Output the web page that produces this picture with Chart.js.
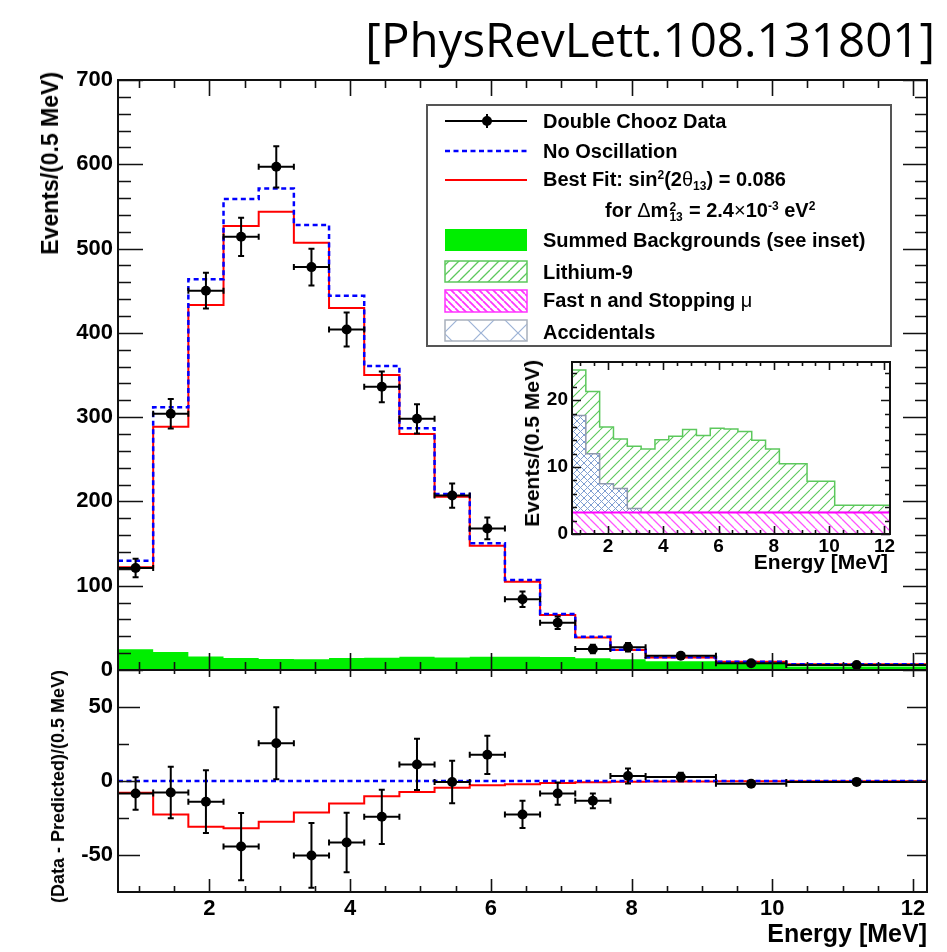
<!DOCTYPE html>
<html>
<head>
<meta charset="utf-8">
<title>Double Chooz positron spectrum</title>
<script src="https://cdn.jsdelivr.net/npm/chart.js@4.4.1/dist/chart.umd.min.js"></script>
<style>
  html, body { margin: 0; padding: 0; background: #fff; }
  #page { position: relative; width: 947px; height: 952px; overflow: hidden;
          font-family: "Liberation Sans", Arial, Helvetica, sans-serif; }
  canvas { position: absolute; }
  .t { position: absolute; white-space: nowrap; font-weight: bold; color: #000; }
  .vt { position: absolute; white-space: nowrap; font-weight: bold; color: #000;
        writing-mode: vertical-rl; transform: rotate(180deg); line-height: 1; }
  .lg { position: absolute; white-space: nowrap; font-weight: bold; font-size: 20px;
        line-height: 24px; left: 543px; color: #000; }
  .sup { position: relative; top: -0.55em; font-size: 60%; }
  .sub { position: relative; top: 0.35em; font-size: 60%; }
  .stk { display: inline-block; position: relative; width: 15px; height: 1px; }
  .stk span { position: absolute; left: 1px; font-size: 12px; line-height: 12px; }
  .stk .up { top: -15px; }
  .stk .dn { top: -5px; }
  .sym { font-weight: normal; }
</style>
</head>
<body>
<div id="page">
  <canvas id="mainCanvas" width="947" height="700" style="left:0;top:0;width:947px;height:700px"></canvas>
  <canvas id="residCanvas" width="947" height="312" style="left:0;top:640px;width:947px;height:312px"></canvas>
  <canvas id="insetCanvas" width="410" height="260" style="left:500px;top:330px;width:410px;height:260px"></canvas>

  <div class="t" style="font-family:'Open Sans',sans-serif;font-weight:normal;font-size:47.5px;line-height:1;right:12px;top:15px">[PhysRevLett.108.131801]</div>

  <div class="vt" style="font-size:23px;left:39px;top:72px">Events/(0.5 MeV)</div>
  <div class="vt" style="font-size:18px;left:49px;top:670px">(Data - Predicted)/(0.5 MeV)</div>
  <div class="t" style="font-size:25px;line-height:1;right:20px;top:921px">Energy [MeV]</div>

  <div class="vt" style="font-size:21px;left:521px;top:360px">Events/(0.5 MeV)</div>
  <div class="t" style="font-size:21px;line-height:1;right:59px;top:551px">Energy [MeV]</div>

  <div class="lg" style="top:109px">Double Chooz Data</div>
  <div class="lg" style="top:139px">No Oscillation</div>
  <div class="lg" style="top:167px">Best Fit: sin<span class="sup">2</span>(2<span class="sym">θ</span><span class="sub">13</span>) = 0.086</div>
  <div class="lg" style="top:198px;left:605px">for <span class="sym">Δ</span>m<span class="stk"><span class="up">2</span><span class="dn">13</span></span> = 2.4<span class="sym">×</span>10<span class="sup">-3</span> eV<span class="sup">2</span></div>
  <div class="lg" style="top:228px">Summed Backgrounds (see inset)</div>
  <div class="lg" style="top:260px">Lithium-9</div>
  <div class="lg" style="top:288px">Fast n and Stopping <span class="sym">μ</span></div>
  <div class="lg" style="top:320px">Accidentals</div>
</div>

<script>
// ---- binning (MeV) ----
const binEdges   = [0.7, 1.2, 1.7, 2.2, 2.7, 3.2, 3.7, 4.2, 4.7, 5.2, 5.7, 6.2, 6.7, 7.2, 7.7, 8.2, 9.2, 10.2, 12.2];
const binCenters = [0.95, 1.45, 1.95, 2.45, 2.95, 3.45, 3.95, 4.45, 4.95, 5.45, 5.95, 6.45, 6.95, 7.45, 7.95, 8.7, 9.7, 11.2];

// ---- prompt spectrum, events / 0.5 MeV ----
const observedEvents = [121, 304, 450, 514, 597, 478, 404, 336, 298, 207, 168, 84, 56, 25, 27, 17, 8, 6];
const observedErrors = [11.0, 17.4, 21.2, 22.7, 24.4, 21.9, 20.1, 18.3, 17.3, 14.4, 12.9, 9.2, 7.5, 5.0, 5.1, 2.9, 1.8, 1.0];
const noOscillation  = [129.7, 311.6, 463.5, 558.8, 571.4, 528.0, 444.0, 360.7, 286.7, 208.8, 150.3, 106.8, 66.4, 39.5, 24.0, 15.0, 9.9, 6.7];
const bestFit        = [121.8, 288.7, 433.0, 526.8, 543.7, 507.0, 429.5, 350.0, 280.0, 205.6, 147.5, 104.8, 65.3, 38.7, 23.8, 14.9, 9.8, 6.7];

// ---- background components (inset) ----
const fastNStoppingMu = [3.2, 3.2, 3.2, 3.2, 3.2, 3.2, 3.2, 3.2, 3.2, 3.2, 3.2, 3.2, 3.2, 3.2, 3.2, 3.2, 3.2, 3.2];
const accidentals     = [14.5, 8.8, 4.3, 3.6, 0.6, 0, 0, 0, 0, 0, 0, 0, 0, 0, 0, 0, 0, 0];
const lithium9        = [6.8, 9.3, 8.5, 7.4, 9.3, 9.5, 10.9, 11.4, 12.4, 11.5, 12.6, 12.5, 12.1, 10.8, 9.5, 7.3, 4.7, 1.1];

// ---- data minus no-oscillation prediction ----
const residualData = [-8.5, -7.8, -14.0, -44.3, 25.5, -50.3, -41.6, -24.2, 11.2, -0.7, 17.7, -22.6, -8.5, -13.4, 3.4, 2.7, -1.8, -0.6];
const residualFit  = [-8.0, -22.6, -30.9, -32.0, -27.5, -21.2, -15.2, -10.3, -7.4, -4.5, -2.9, -2.2, -1.3, -0.8, -0.5, -0.3, -0.2, -0.1];

// ---- axis labels ----
const energyTicks   = [2, 4, 6, 8, 10, 12];
const eventTicks    = [0, 100, 200, 300, 400, 500, 600, 700];
const residualTicks = [-50, 0, 50];
const insetTicks    = [0, 10, 20];

// ---------------------------------------------------------------
const FONT = "'Liberation Sans', Arial, Helvetica, sans-serif";
Chart.defaults.font.family = FONT;
Chart.defaults.color = '#000';

// stacked background envelopes
const fastTop   = fastNStoppingMu.slice();
const accTop    = fastNStoppingMu.map((v, i) => v + accidentals[i]);
const bgTotal   = accTop.map((v, i) => v + lithium9[i]);

function histogram(values) {
  const pts = values.map((v, i) => ({ x: binEdges[i], y: v }));
  pts.push({ x: binEdges[values.length], y: values[values.length - 1] });
  return pts;
}
function points(values) {
  return values.map((v, i) => ({ x: binCenters[i], y: v }));
}
function fixedTicks(list) {
  return s => { s.ticks = list.map(v => ({ value: v })); };
}
function span(a, b, step) {
  const r = [];
  for (let v = a; v <= b + 1e-9; v += step) r.push(+v.toFixed(4));
  return r;
}
function hatch(color, size, lw, kind) {
  const c = document.createElement('canvas');
  c.width = c.height = size;
  const g = c.getContext('2d');
  g.fillStyle = '#fff';
  g.fillRect(0, 0, size, size);
  g.strokeStyle = color;
  g.lineWidth = lw;
  g.beginPath();
  for (const k of [-size, 0, size]) {
    if (kind === '/' || kind === 'x') { g.moveTo(k, size); g.lineTo(k + size, 0); }
    if (kind === '\\' || kind === 'x') { g.moveTo(k, 0); g.lineTo(k + size, size); }
  }
  g.stroke();
  return g.createPattern(c, 'repeat');
}

// inward ROOT-style ticks on all four sides + frame
const frameTicks = {
  id: 'frameTicks',
  afterDatasetsDraw(chart, args, o) {
    const { ctx, chartArea: a, scales: { x, y } } = chart;
    ctx.save();
    ctx.strokeStyle = '#111';
    ctx.lineWidth = 1.6;
    ctx.beginPath();
    const xt = (vals, lb, lt) => vals.forEach(v => {
      const p = Math.round(x.getPixelForValue(v)) + 0.5;
      if (lb) { ctx.moveTo(p, a.bottom); ctx.lineTo(p, a.bottom - lb); }
      if (lt) { ctx.moveTo(p, a.top); ctx.lineTo(p, a.top + lt); }
    });
    const yt = (vals, ll, lr) => vals.forEach(v => {
      const p = Math.round(y.getPixelForValue(v)) + 0.5;
      if (ll) { ctx.moveTo(a.left, p); ctx.lineTo(a.left + ll, p); }
      if (lr) { ctx.moveTo(a.right, p); ctx.lineTo(a.right - lr, p); }
    });
    xt(o.xMinor, o.xMinorLen[0], o.xMinorLen[1]);
    xt(o.xMajor, o.xMajorLen[0], o.xMajorLen[1]);
    yt(o.yMinor, o.yMinorLen[0], o.yMinorLen[1]);
    yt(o.yMajor, o.yMajorLen[0], o.yMajorLen[1]);
    ctx.stroke();
    ctx.lineWidth = 2;
    ctx.strokeStyle = '#111';
    ctx.strokeRect(a.left, a.top, a.right - a.left, a.bottom - a.top);
    ctx.restore();
  }
};

// horizontal (bin width) and vertical (stat.) error bars
const errorBars = {
  id: 'errorBars',
  afterDatasetsDraw(chart, args, o) {
    if (!o.values) return;
    const { ctx, chartArea: a, scales: { x, y } } = chart;
    ctx.save();
    ctx.beginPath();
    ctx.rect(a.left, a.top, a.right - a.left, a.bottom - a.top);
    ctx.clip();
    ctx.strokeStyle = '#000';
    ctx.lineWidth = 2;
    ctx.beginPath();
    o.values.forEach((v, i) => {
      const px = x.getPixelForValue(binCenters[i]);
      const py = y.getPixelForValue(v);
      const xl = x.getPixelForValue(binEdges[i]);
      const xr = x.getPixelForValue(binEdges[i + 1]);
      const yt = y.getPixelForValue(v + o.errors[i]);
      const yb = y.getPixelForValue(v - o.errors[i]);
      ctx.moveTo(xl, py); ctx.lineTo(xr, py);
      ctx.moveTo(px, yt); ctx.lineTo(px, yb);
      ctx.moveTo(xl, py - 3); ctx.lineTo(xl, py + 3);
      ctx.moveTo(xr, py - 3); ctx.lineTo(xr, py + 3);
      ctx.moveTo(px - 3, yt); ctx.lineTo(px + 3, yt);
      ctx.moveTo(px - 3, yb); ctx.lineTo(px + 3, yb);
    });
    ctx.stroke();
    ctx.restore();
  }
};

// legend box with its symbols (labels are page text)
const legendBox = {
  id: 'legendBox',
  afterDraw(chart) {
    const ctx = chart.ctx;
    ctx.save();
    ctx.fillStyle = '#fff';
    ctx.fillRect(427, 105, 464, 241);
    ctx.strokeStyle = '#555';
    ctx.lineWidth = 2;
    ctx.strokeRect(427, 105, 464, 241);

    const x0 = 445, x1 = 527;
    // data
    ctx.strokeStyle = '#000'; ctx.lineWidth = 2;
    ctx.beginPath();
    ctx.moveTo(x0, 121); ctx.lineTo(x1, 121);
    ctx.moveTo(487, 114); ctx.lineTo(487, 128);
    ctx.stroke();
    ctx.fillStyle = '#000';
    ctx.beginPath(); ctx.arc(487, 121, 5, 0, Math.PI * 2); ctx.fill();
    // no oscillation
    ctx.strokeStyle = '#0000ff'; ctx.lineWidth = 2.5; ctx.setLineDash([5, 3.5]);
    ctx.beginPath(); ctx.moveTo(x0, 151); ctx.lineTo(x1, 151); ctx.stroke();
    ctx.setLineDash([]);
    // best fit
    ctx.strokeStyle = '#ff0000'; ctx.lineWidth = 2;
    ctx.beginPath(); ctx.moveTo(x0, 180); ctx.lineTo(x1, 180); ctx.stroke();
    // summed backgrounds
    ctx.fillStyle = '#00ee00';
    ctx.fillRect(x0, 229, x1 - x0, 22);
    // lithium-9
    ctx.fillStyle = hatch('#5cc85c', 10, 1.3, '/');
    ctx.fillRect(x0, 261, x1 - x0, 21);
    ctx.strokeStyle = '#5cc85c'; ctx.lineWidth = 1.5;
    ctx.strokeRect(x0, 261, x1 - x0, 21);
    // fast n
    ctx.fillStyle = hatch('#ff33ff', 7, 1.8, '\\');
    ctx.fillRect(x0, 290, x1 - x0, 22);
    ctx.strokeStyle = '#ff33ff'; ctx.lineWidth = 1.5;
    ctx.strokeRect(x0, 290, x1 - x0, 22);
    // accidentals
    ctx.fillStyle = hatch('#9db3d6', 37, 1.2, 'x');
    ctx.fillRect(x0, 320, x1 - x0, 21);
    ctx.strokeStyle = '#a8b0bc'; ctx.lineWidth = 1.5;
    ctx.strokeRect(x0, 320, x1 - x0, 21);
    ctx.restore();
  }
};

const whiteArea = {
  id: 'whiteArea',
  beforeDatasetsDraw(chart) {
    const { ctx, chartArea: a } = chart;
    ctx.save();
    ctx.fillStyle = '#fff';
    ctx.fillRect(a.left, a.top, a.right - a.left, a.bottom - a.top);
    ctx.restore();
  }
};

function axis(extra) {
  return Object.assign({ type: 'linear', grid: { display: false, drawTicks: false }, border: { display: false } }, extra);
}
const base = {
  responsive: false,
  animation: false,
  events: [],
  devicePixelRatio: 1
};
const tickFont = size => ({ family: FONT, size: size, weight: 'bold' });

// ---------------- main spectrum ----------------
new Chart(document.getElementById('mainCanvas'), {
  type: 'line',
  data: {
    datasets: [
      { label: 'Double Chooz Data', data: points(observedEvents), showLine: false,
        pointRadius: 5, pointBackgroundColor: '#000', pointBorderWidth: 0, borderColor: '#000' },
      { label: 'No Oscillation', data: histogram(noOscillation), stepped: true, fill: false,
        borderColor: '#0000ff', borderWidth: 2.5, borderDash: [5, 3.5], pointRadius: 0 },
      { label: 'Best Fit', data: histogram(bestFit), stepped: true, fill: false,
        borderColor: '#ff0000', borderWidth: 2, pointRadius: 0 },
      { label: 'Summed Backgrounds', data: histogram(bgTotal), stepped: true, fill: 'origin',
        backgroundColor: '#00ee00', borderColor: 'rgba(0,0,0,0)', borderWidth: 1, pointRadius: 0 }
    ]
  },
  options: Object.assign({}, base, {
    layout: { padding: { top: 80, right: 20, left: 0, bottom: 0 } },
    plugins: {
      legend: { display: false }, tooltip: { enabled: false },
      errorBars: { values: observedEvents, errors: observedErrors },
      frameTicks: {
        xMajor: energyTicks, xMinor: span(1, 12, 0.5), xMajorLen: [17, 16], xMinorLen: [8, 8],
        yMajor: eventTicks, yMinor: span(0, 700, 20), yMajorLen: [25, 24], yMinorLen: [13, 12]
      }
    },
    scales: {
      x: axis({ min: 0.7, max: 12.2, ticks: { display: false },
                afterFit(s) { s.height = 30; } }),
      y: axis({ min: 0, max: 700, afterBuildTicks: fixedTicks(eventTicks),
                ticks: { font: tickFont(22), color: '#000', padding: 5 },
                afterFit(s) { s.width = 118; } })
    }
  }),
  plugins: [errorBars, frameTicks, legendBox]
});

// ---------------- residuals ----------------
new Chart(document.getElementById('residCanvas'), {
  type: 'line',
  data: {
    datasets: [
      { label: 'Data - No Oscillation', data: points(residualData), showLine: false,
        pointRadius: 5, pointBackgroundColor: '#000', pointBorderWidth: 0, borderColor: '#000' },
      { label: 'No Oscillation', data: [{ x: binEdges[0], y: 0 }, { x: binEdges[binEdges.length - 1], y: 0 }],
        fill: false, borderColor: '#0000ff', borderWidth: 2.5, borderDash: [5, 3.5], pointRadius: 0 },
      { label: 'Best Fit - No Oscillation', data: histogram(residualFit), stepped: true, fill: false,
        borderColor: '#ff0000', borderWidth: 2, pointRadius: 0 }
    ]
  },
  options: Object.assign({}, base, {
    layout: { padding: { top: 30, right: 20, left: 0, bottom: 0 } },
    plugins: {
      legend: { display: false }, tooltip: { enabled: false },
      errorBars: { values: residualData, errors: observedErrors },
      frameTicks: {
        xMajor: energyTicks, xMinor: span(1, 12, 0.5), xMajorLen: [13, 7], xMinorLen: [6, 4],
        yMajor: residualTicks, yMinor: span(-50, 50, 25), yMajorLen: [22, 20], yMinorLen: [11, 10]
      }
    },
    scales: {
      x: axis({ min: 0.7, max: 12.2, afterBuildTicks: fixedTicks(energyTicks),
                ticks: { font: tickFont(22), color: '#000', padding: 4, maxRotation: 0 },
                afterFit(s) { s.height = 60; } }),
      y: axis({ min: -75, max: 75, afterBuildTicks: fixedTicks(residualTicks),
                ticks: { font: tickFont(22), color: '#000', padding: 5 },
                afterFit(s) { s.width = 118; } })
    }
  }),
  plugins: [errorBars, frameTicks]
});

// ---------------- background inset ----------------
new Chart(document.getElementById('insetCanvas'), {
  type: 'line',
  data: {
    datasets: [
      { label: 'Fast n and Stopping mu', data: histogram(fastTop), stepped: true, fill: 'origin',
        backgroundColor: hatch('#ff55ff', 9, 1.3, '\\'), borderColor: '#ff00ff', borderWidth: 2, pointRadius: 0 },
      { label: 'Accidentals', data: histogram(accTop), stepped: true, fill: 'origin',
        backgroundColor: hatch('#7f9fd2', 7, 1, 'x'), borderColor: '#8e98ad', borderWidth: 1.5, pointRadius: 0 },
      { label: 'Lithium-9', data: histogram(bgTotal), stepped: true, fill: 'origin',
        backgroundColor: hatch('#5cc85c', 10, 1.1, '/'), borderColor: '#5cc85c', borderWidth: 1.5, pointRadius: 0 }
    ]
  },
  options: Object.assign({}, base, {
    layout: { padding: { top: 32, right: 20, left: 0, bottom: 0 } },
    plugins: {
      legend: { display: false }, tooltip: { enabled: false },
      frameTicks: {
        xMajor: energyTicks, xMinor: span(1, 12, 0.5), xMajorLen: [8, 8], xMinorLen: [4, 4],
        yMajor: insetTicks, yMinor: span(0, 24, 2), yMajorLen: [9, 9], yMinorLen: [5, 5]
      }
    },
    scales: {
      x: axis({ min: 0.7, max: 12.2, afterBuildTicks: fixedTicks(energyTicks),
                ticks: { font: tickFont(19), color: '#000', padding: 1, maxRotation: 0 },
                afterFit(s) { s.height = 56; } }),
      y: axis({ min: 0, max: 25.7, afterBuildTicks: fixedTicks(insetTicks),
                ticks: { font: tickFont(19), color: '#000', padding: 4 },
                afterFit(s) { s.width = 72; } })
    }
  }),
  plugins: [whiteArea, frameTicks]
});
</script>
</body>
</html>
